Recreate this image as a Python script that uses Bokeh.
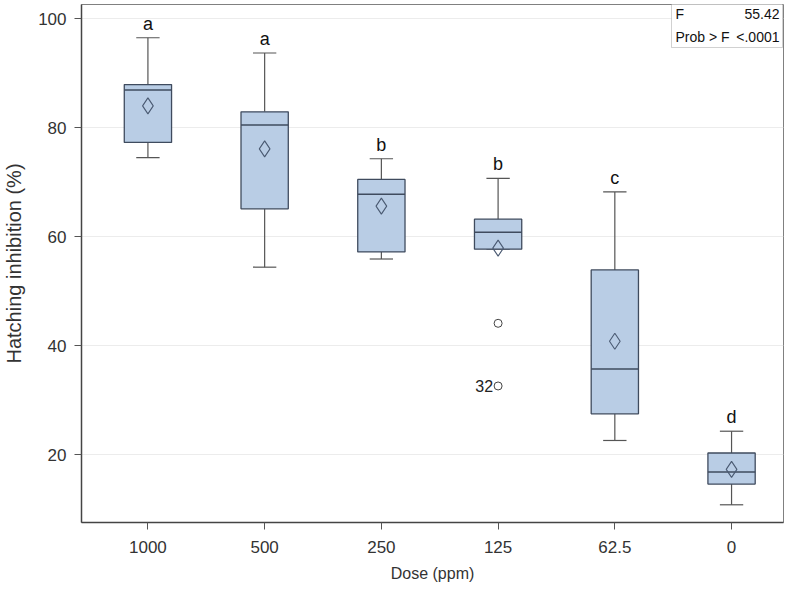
from bokeh.plotting import figure
from bokeh.models import (FixedTicker, Range1d, ColumnDataSource, Label, BoxAnnotation)
from bokeh.core.properties import value
from bokeh.transform import dodge
from bokeh.embed import file_html
from bokeh.resources import INLINE

# ---- data ----
doses = ["1000", "500", "250", "125", "62.5", "0"]
whisk_lo = [74.5, 54.4, 55.9, 57.7, 22.6, 10.8]
q1 = [77.3, 65.1, 57.2, 57.7, 27.5, 14.6]
median = [86.9, 80.5, 67.8, 60.8, 35.7, 16.8]
q3 = [87.9, 82.9, 70.5, 63.2, 53.9, 20.3]
whisk_hi = [96.5, 93.7, 74.3, 70.7, 68.2, 24.3]
means = [84.0, 76.1, 65.6, 57.9, 40.8, 17.3]
letters = ["a", "a", "b", "b", "c", "d"]
outlier_group = [3, 3]
outlier_values = [44.1, 32.6]
outlier_labels = ["", "32"]
y_ticks = [20, 40, 60, 80, 100]
stat_names = ["F", "Prob > F"]
stat_values = ["55.42", "<.0001"]

FONT = "Liberation Sans"
BOX_FILL = "#b9cde5"
BOX_LINE = "#3f4b5e"
WHISK = "#555555"
BOX_W = 0.405
CAP_W = 0.2

xs = list(range(len(doses)))
src = ColumnDataSource(dict(x=xs, lo=whisk_lo, q1=q1, med=median, q3=q3,
                            hi=whisk_hi, mean=means, letter=letters))

p = figure(width=784, height=584, output_backend="svg", toolbar_location=None,
           x_range=Range1d(-0.569, 5.445), y_range=Range1d(7.55, 102.6),
           min_border_left=80, min_border_right=1, min_border_top=4,
           min_border_bottom=57)
p.background_fill_color = "white"
p.border_fill_color = "white"
p.outline_line_color = "#808080"
p.outline_line_width = 1

# whiskers
p.segment(x0="x", y0="lo", x1="x", y1="q1", source=src, line_color=WHISK, line_width=1.2)
p.segment(x0="x", y0="q3", x1="x", y1="hi", source=src, line_color=WHISK, line_width=1.2)
p.segment(x0=dodge("x", -CAP_W / 2), y0="lo", x1=dodge("x", CAP_W / 2), y1="lo",
          source=src, line_color=WHISK, line_width=1.2)
p.segment(x0=dodge("x", -CAP_W / 2), y0="hi", x1=dodge("x", CAP_W / 2), y1="hi",
          source=src, line_color=WHISK, line_width=1.2)

# boxes
p.vbar(x="x", bottom="q1", top="q3", width=BOX_W, source=src,
       fill_color=BOX_FILL, line_color=BOX_LINE, line_width=1.3)
p.segment(x0=dodge("x", -BOX_W / 2), y0="med", x1=dodge("x", BOX_W / 2), y1="med",
          source=src, line_color=BOX_LINE, line_width=1.5)

# means
p.scatter(x="x", y="mean", source=src, marker="diamond", size=16,
          fill_color=None, line_color="#4a5a72", line_width=1.1)

# outliers
osrc = ColumnDataSource(dict(x=outlier_group, y=outlier_values, lab=outlier_labels))
p.scatter(x="x", y="y", source=osrc, marker="circle", size=8,
          fill_color="white", line_color="#444444", line_width=1)
p.text(x="x", y="y", text="lab", source=osrc, text_align="right", text_baseline="middle",
       x_offset=-5, text_font=value(FONT), text_font_size="16px", text_color="#222222")

# letters
p.text(x="x", y="hi", text="letter", source=src, text_align="center",
       text_baseline="bottom", y_offset=-4, text_font=value(FONT),
       text_font_size="18px", text_color="#111111")

# axes
p.xaxis.ticker = FixedTicker(ticks=xs)
p.xaxis.major_label_overrides = {i: d for i, d in enumerate(doses)}
p.yaxis.ticker = FixedTicker(ticks=y_ticks)
for ax in (p.xaxis[0], p.yaxis[0]):
    ax.axis_line_color = "#444444"
    ax.axis_line_width = 1.5
    ax.major_tick_line_color = "#555555"
    ax.major_tick_out = 7
    ax.major_tick_in = 0
    ax.minor_tick_line_color = None
    ax.major_label_text_font = FONT
    ax.major_label_text_font_size = "17px"
    ax.major_label_text_color = "#333333"
    ax.axis_label_text_font = FONT
    ax.axis_label_text_font_style = "normal"
    ax.axis_label_text_color = "#333333"
p.xaxis.axis_label = "Dose (ppm)"
p.yaxis.axis_label = "Hatching inhibition (%)"
p.xaxis.axis_label_text_font_size = "16px"
p.yaxis.axis_label_text_font_size = "20px"
p.xaxis.major_label_standoff = 11
p.xaxis.axis_label_standoff = 9
p.yaxis.major_label_standoff = 8
p.yaxis.axis_label_standoff = 10

p.xgrid.grid_line_color = None
p.ygrid.grid_line_color = "#ececec"
p.ygrid.grid_line_width = 1

# stat inset (screen units relative to the plot frame)
box = BoxAnnotation(left=590, right=701, top=522, bottom=475,
                    left_units="screen", right_units="screen",
                    top_units="screen", bottom_units="screen",
                    fill_color="white", fill_alpha=1.0,
                    line_color="#666666", line_width=1)
p.add_layout(box)
for i, (nm, vl) in enumerate(zip(stat_names, stat_values)):
    yy = 509 - i * 23
    p.add_layout(Label(x=594, y=yy, x_units="screen", y_units="screen", text=nm,
                       text_align="left", text_baseline="middle", text_font=FONT,
                       text_font_size="14px", text_color="#111111"))
    p.add_layout(Label(x=698, y=yy, x_units="screen", y_units="screen", text=vl,
                       text_align="right", text_baseline="middle", text_font=FONT,
                       text_font_size="14px", text_color="#111111"))

open("out.html", "w").write(file_html(p, INLINE))
